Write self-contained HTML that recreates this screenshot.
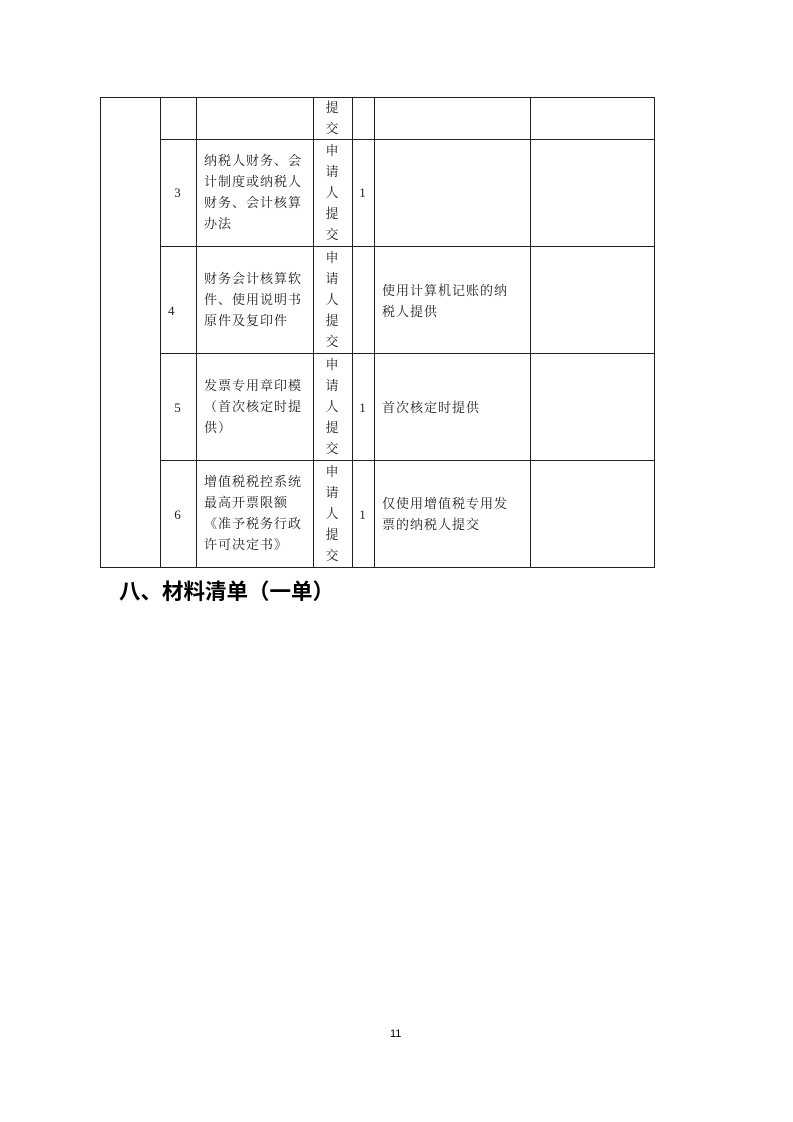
<!DOCTYPE html>
<html><head><meta charset="utf-8"><style>
body{margin:0;width:793px;height:1122px;background:#fff;position:relative;font-family:"Liberation Serif","Noto Serif CJK SC",serif;color:#222}
.l{position:absolute;background:#222}
.t{position:absolute;font-size:13px;line-height:21px;letter-spacing:1px}
.c{text-align:center}
</style></head><body>
<div class="l" style="left:100px;top:97px;width:555px;height:1px"></div>
<div class="l" style="left:160px;top:139px;width:495px;height:1px"></div>
<div class="l" style="left:160px;top:246px;width:495px;height:1px"></div>
<div class="l" style="left:160px;top:353px;width:495px;height:1px"></div>
<div class="l" style="left:160px;top:460px;width:495px;height:1px"></div>
<div class="l" style="left:100px;top:567px;width:555px;height:1px"></div>
<div class="l" style="left:100px;top:97px;width:1px;height:471px"></div>
<div class="l" style="left:160px;top:97px;width:1px;height:471px"></div>
<div class="l" style="left:196px;top:97px;width:1px;height:471px"></div>
<div class="l" style="left:313px;top:97px;width:1px;height:471px"></div>
<div class="l" style="left:352px;top:97px;width:1px;height:471px"></div>
<div class="l" style="left:374px;top:97px;width:1px;height:471px"></div>
<div class="l" style="left:530px;top:97px;width:1px;height:471px"></div>
<div class="l" style="left:654px;top:97px;width:1px;height:471px"></div>

<div class="t c" style="left:313px;top:97px;width:39px">提<br>交</div>

<div class="t c" style="left:160px;top:182px;width:36px">3</div>
<div class="t" style="left:204px;top:150px;width:108px">纳税人财务、会计制度或纳税人财务、会计核算办法</div>
<div class="t c" style="left:313px;top:140px;width:39px">申<br>请<br>人<br>提<br>交</div>
<div class="t c" style="left:352px;top:182px;width:22px">1</div>

<div class="t" style="left:168px;top:300px;width:14px">4</div>
<div class="t" style="left:204px;top:268px;width:108px">财务会计核算软件、使用说明书原件及复印件</div>
<div class="t c" style="left:313px;top:247px;width:39px">申<br>请<br>人<br>提<br>交</div>
<div class="t" style="left:382px;top:280px;width:136px">使用计算机记账的纳税人提供</div>

<div class="t c" style="left:160px;top:397px;width:36px">5</div>
<div class="t" style="left:204px;top:375px;width:108px">发票专用章印模（首次核定时提供）</div>
<div class="t c" style="left:313px;top:354px;width:39px">申<br>请<br>人<br>提<br>交</div>
<div class="t c" style="left:352px;top:397px;width:22px">1</div>
<div class="t" style="left:382px;top:397px;width:136px">首次核定时提供</div>

<div class="t c" style="left:160px;top:504px;width:36px">6</div>
<div class="t" style="left:204px;top:471px;width:108px">增值税税控系统最高开票限额《准予税务行政许可决定书》</div>
<div class="t c" style="left:313px;top:461px;width:39px">申<br>请<br>人<br>提<br>交</div>
<div class="t c" style="left:352px;top:504px;width:22px">1</div>
<div class="t" style="left:382px;top:493px;width:136px">仅使用增值税专用发票的纳税人提交</div>

<div style="position:absolute;left:119px;top:577px;font-family:'Liberation Sans','Noto Sans CJK SC',sans-serif;font-weight:bold;font-size:21.5px;line-height:30px;color:#000">八、材料清单（一单）</div>
<div style="position:absolute;left:390px;top:1028px;font-family:'Liberation Sans',sans-serif;font-size:11px;color:#000">11</div>
</body></html>
